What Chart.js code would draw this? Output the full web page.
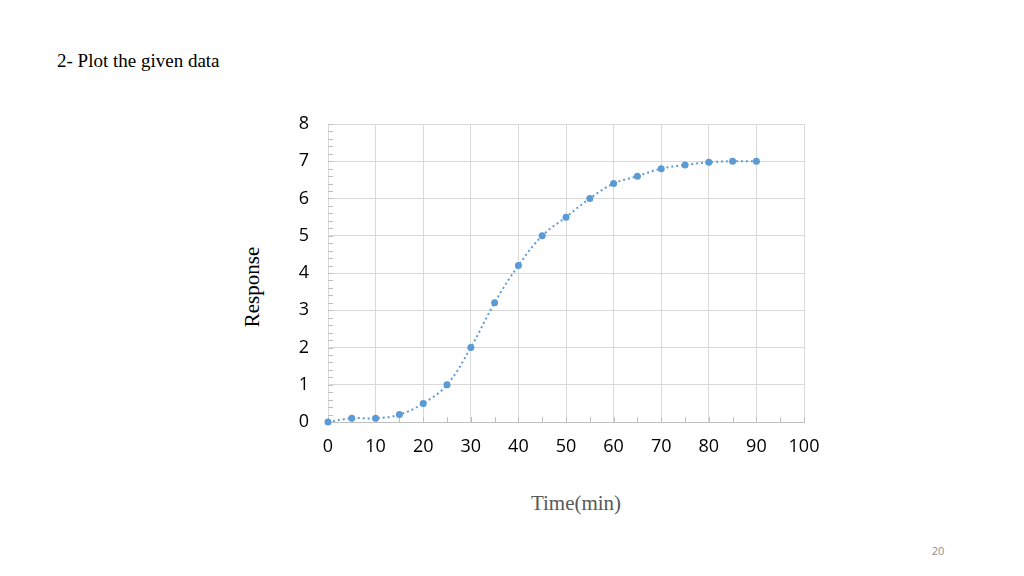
<!DOCTYPE html>
<html><head><meta charset="utf-8">
<script src="https://cdn.jsdelivr.net/npm/chart.js@4"></script>
<style>
html,body{margin:0;padding:0;background:#fff;width:1024px;height:576px;overflow:hidden;position:relative}
#wrap{position:absolute;left:0;top:0;width:1024px;height:576px}
.t{position:absolute;white-space:nowrap}
</style></head><body>
<div class="t" style="left:57px;top:50px;font-family:'Liberation Serif',serif;font-size:19px;color:#000">2- Plot the given data</div>
<div class="t" style="left:252px;top:287px;transform:translate(-50%,-50%) rotate(-90deg);font-family:'Liberation Serif',serif;font-size:21px;color:#000">Response</div>
<div class="t" style="left:576px;top:503px;transform:translate(-50%,-50%);font-family:'Liberation Serif',serif;font-size:21px;color:#595959">Time(min)</div>
<div class="t" style="left:938px;top:550px;transform:translate(-50%,-50%);font-family:'Open Sans',sans-serif;font-size:11px;color:#8c8c8c">20</div>
<div id="wrap"><canvas id="c"></canvas></div>
<script>
const times = [0,5,10,15,20,25,30,35,40,45,50,55,60,65,70,75,80,85,90];
const response = [0,0.1,0.1,0.2,0.5,1.0,2.0,3.2,4.2,5.0,5.5,6.0,6.4,6.6,6.8,6.9,6.97,7.0,7.0];
const xTicks = [0,10,20,30,40,50,60,70,80,90,100];
const yTicks = [0,1,2,3,4,5,6,7,8];

const minorTicks = {
  id:'minorTicks',
  beforeDatasetsDraw(chart){
    const {ctx, scales:{x,y}} = chart;
    ctx.save();
    ctx.strokeStyle='#bfbfbf'; ctx.lineWidth=1;
    ctx.beginPath();
    for(let v=0; v<=100; v+=5){
      const px=Math.round(x.getPixelForValue(v))+0.5;
      ctx.moveTo(px,y.bottom); ctx.lineTo(px,y.bottom-5);
    }
    for(let v=0; v<=8.001; v+=0.2){
      const py=Math.round(y.getPixelForValue(v))+0.5;
      ctx.moveTo(x.left,py); ctx.lineTo(x.left+5,py);
    }
    ctx.stroke();
    ctx.restore();
  }
};

new Chart(document.getElementById('c'),{
  type:'line',
  data:{datasets:[{
    data: times.map((t,i)=>({x:t,y:response[i]})),
    borderColor:'#5b9bd5', backgroundColor:'#5b9bd5',
    borderWidth:2, borderDash:[2,3], tension:0.4, clip:false,
    pointRadius:3.5, pointHoverRadius:3.5, pointBorderWidth:0,
    pointBackgroundColor:'#5b9bd5', fill:false
  }]},
  options:{
    responsive:true, maintainAspectRatio:false, animation:false,
    layout:{padding:{left:260,right:220,top:124,bottom:114}},
    plugins:{legend:{display:false},tooltip:{enabled:false}},
    scales:{
      x:{type:'linear',min:0,max:100,
        afterBuildTicks:(s)=>{s.ticks=xTicks.map(v=>({value:v}));},
        afterFit:(s)=>{s.height=40;},
        grid:{color:'#d9d9d9',drawTicks:false},
        border:{color:'#bfbfbf'},
        ticks:{padding:14,color:'#000',font:{family:'Open Sans',size:18},maxRotation:0,autoSkip:false}
      },
      y:{type:'linear',min:0,max:8,
        afterBuildTicks:(s)=>{s.ticks=yTicks.map(v=>({value:v}));},
        afterFit:(s)=>{s.width=68;},
        grid:{color:'#d9d9d9',drawTicks:false},
        border:{color:'#d9d9d9'},
        ticks:{padding:19,color:'#000',font:{family:'Open Sans',size:18},autoSkip:false}
      }
    }
  },
  plugins:[minorTicks]
});
</script>
</body></html>
